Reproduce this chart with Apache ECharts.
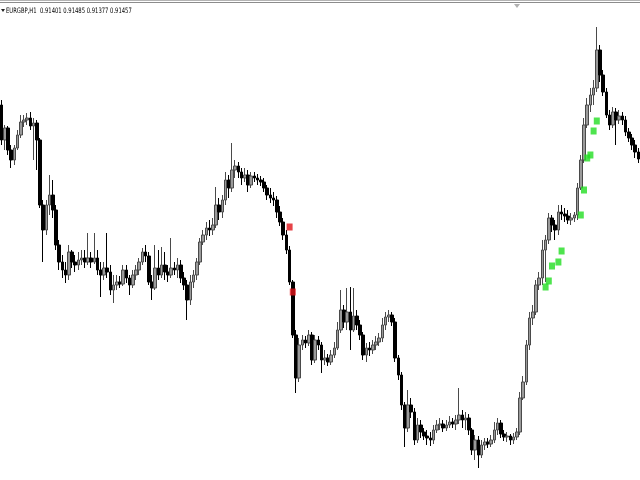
<!DOCTYPE html>
<html>
<head>
<meta charset="utf-8">
<script src="https://cdn.jsdelivr.net/npm/echarts@6/dist/echarts.min.js"></script>
<style>
html, body { margin: 0; padding: 0; background: #fff; }
#chart { width: 640px; height: 480px; }
</style>
</head>
<body>
<div id="chart"></div>
<script>
var symbolName = 'EURGBP,H1';
var headerValues = ['0.91401', '0.91485', '0.91377', '0.91457'];

// [open, close, low, high]
var ohlc = [
    [0.9200,0.9165,0.9160,0.9205],[0.9165,0.9177,0.9155,0.9180],[0.9177,0.9155,0.9150,0.9179],[0.9155,0.9145,0.9137,0.9160],[0.9145,0.9157,0.9140,0.9160],
    [0.9157,0.9170,0.9155,0.9175],[0.9170,0.9183,0.9167,0.9190],[0.9183,0.9185,0.9178,0.9190],[0.9185,0.9187,0.9180,0.9192],[0.9187,0.9179,0.9175,0.9193],
    [0.9179,0.9182,0.9145,0.9187],[0.9182,0.9165,0.9135,0.9185],[0.9165,0.9100,0.9097,0.9167],[0.9100,0.9075,0.9043,0.9105],[0.9075,0.9100,0.9070,0.9105],
    [0.9100,0.9110,0.9090,0.9130],[0.9110,0.9095,0.9087,0.9125],[0.9095,0.9060,0.9055,0.9100],[0.9060,0.9043,0.9035,0.9065],[0.9043,0.9035,0.9027,0.9050],
    [0.9035,0.9030,0.9022,0.9043],[0.9030,0.9053,0.9025,0.9060],[0.9053,0.9043,0.9037,0.9055],[0.9043,0.9040,0.9033,0.9050],[0.9040,0.9045,0.9035,0.9053],
    [0.9045,0.9047,0.9040,0.9055],[0.9047,0.9043,0.9037,0.9055],[0.9043,0.9047,0.9040,0.9072],[0.9047,0.9043,0.9037,0.9053],[0.9043,0.9047,0.9041,0.9072],
    [0.9047,0.9035,0.9030,0.9055],[0.9035,0.9030,0.9008,0.9043],[0.9030,0.9037,0.9025,0.9043],[0.9037,0.9033,0.9027,0.9072],[0.9033,0.9015,0.9010,0.9040],
    [0.9015,0.9020,0.9002,0.9030],[0.9020,0.9023,0.9015,0.9030],[0.9023,0.9021,0.9017,0.9029],[0.9021,0.9035,0.9019,0.9040],[0.9035,0.9027,0.9022,0.9040],
    [0.9027,0.9020,0.9010,0.9030],[0.9020,0.9030,0.9017,0.9035],[0.9030,0.9035,0.9025,0.9040],[0.9035,0.9043,0.9030,0.9047],[0.9043,0.9053,0.9040,0.9057],
    [0.9053,0.9049,0.9043,0.9060],[0.9049,0.9023,0.9020,0.9053],[0.9023,0.9017,0.9005,0.9030],[0.9017,0.9037,0.9015,0.9060],[0.9037,0.9030,0.9025,0.9055],
    [0.9030,0.9040,0.9027,0.9058],[0.9040,0.9033,0.9025,0.9053],[0.9033,0.9030,0.9023,0.9040],[0.9030,0.9037,0.9027,0.9067],[0.9037,0.9035,0.9030,0.9043],
    [0.9035,0.9040,0.9027,0.9047],[0.9040,0.9027,0.9022,0.9045],[0.9027,0.9020,0.9015,0.9033],[0.9020,0.9005,0.8985,0.9025],[0.9005,0.9023,0.9000,0.9030],
    [0.9023,0.9030,0.9017,0.9035],[0.9030,0.9043,0.9025,0.9047],[0.9043,0.9063,0.9040,0.9067],[0.9063,0.9070,0.9060,0.9075],[0.9070,0.9077,0.9065,0.9083],
    [0.9077,0.9075,0.9069,0.9085],[0.9075,0.9080,0.9070,0.9087],[0.9080,0.9100,0.9077,0.9118],[0.9100,0.9093,0.9085,0.9107],[0.9093,0.9105,0.9087,0.9110],
    [0.9105,0.9125,0.9100,0.9133],[0.9125,0.9117,0.9107,0.9130],[0.9117,0.9135,0.9113,0.9162],[0.9135,0.9139,0.9127,0.9145],[0.9139,0.9133,0.9127,0.9143],
    [0.9133,0.9127,0.9120,0.9137],[0.9127,0.9130,0.9123,0.9137],[0.9130,0.9120,0.9113,0.9135],[0.9120,0.9129,0.9117,0.9133],[0.9129,0.9127,0.9123,0.9133],
    [0.9127,0.9125,0.9120,0.9131],[0.9125,0.9123,0.9119,0.9129],[0.9123,0.9117,0.9113,0.9127],[0.9117,0.9110,0.9105,0.9120],[0.9110,0.9107,0.9102,0.9117],
    [0.9107,0.9105,0.9099,0.9113],[0.9105,0.9093,0.9087,0.9109],[0.9093,0.9083,0.9079,0.9099],[0.9083,0.9070,0.9065,0.9087],[0.9070,0.9055,0.9051,0.9075],
    [0.9055,0.9023,0.9020,0.9059],[0.9023,0.8970,0.8967,0.9025],[0.8970,0.8927,0.8912,0.8975],[0.8927,0.8960,0.8923,0.8967],[0.8960,0.8965,0.8955,0.8970],
    [0.8965,0.8962,0.8957,0.8969],[0.8962,0.8970,0.8959,0.8975],[0.8970,0.8945,0.8940,0.8973],[0.8945,0.8965,0.8942,0.8970],[0.8965,0.8960,0.8955,0.8969],
    [0.8960,0.8945,0.8932,0.8963],[0.8945,0.8947,0.8940,0.8955],[0.8947,0.8943,0.8939,0.8951],[0.8943,0.8950,0.8940,0.8955],[0.8950,0.8957,0.8947,0.8963],
    [0.8957,0.8975,0.8955,0.8983],[0.8975,0.8995,0.8972,0.9015],[0.8995,0.8983,0.8977,0.9000],[0.8983,0.8993,0.8975,0.9017],[0.8993,0.8975,0.8955,0.9018],
    [0.8975,0.8989,0.8973,0.9017],[0.8989,0.8980,0.8975,0.8995],[0.8980,0.8970,0.8965,0.8985],[0.8970,0.8950,0.8945,0.8973],[0.8950,0.8957,0.8943,0.8962],
    [0.8957,0.8955,0.8949,0.8963],[0.8955,0.8960,0.8951,0.8965],[0.8960,0.8963,0.8955,0.8969],[0.8963,0.8967,0.8959,0.8972],[0.8967,0.8980,0.8963,0.8987],
    [0.8980,0.8988,0.8975,0.8993],[0.8988,0.8990,0.8983,0.8995],[0.8990,0.8983,0.8979,0.8993],[0.8983,0.8947,0.8943,0.8987],[0.8947,0.8930,0.8925,0.8950],
    [0.8930,0.8900,0.8895,0.8933],[0.8900,0.8877,0.8858,0.8903],[0.8877,0.8900,0.8873,0.8915],[0.8900,0.8893,0.8887,0.8907],[0.8893,0.8865,0.8860,0.8897],
    [0.8865,0.8880,0.8862,0.8887],[0.8880,0.8873,0.8867,0.8885],[0.8873,0.8869,0.8865,0.8877],[0.8869,0.8867,0.8860,0.8875],[0.8867,0.8865,0.8859,0.8873],
    [0.8865,0.8875,0.8861,0.8880],[0.8875,0.8880,0.8872,0.8885],[0.8880,0.8881,0.8875,0.8887],[0.8881,0.8877,0.8873,0.8885],[0.8877,0.8880,0.8874,0.8885],
    [0.8880,0.8883,0.8877,0.8889],[0.8883,0.8881,0.8877,0.8887],[0.8881,0.8885,0.8875,0.8890],[0.8885,0.8890,0.8881,0.8917],[0.8890,0.8885,0.8877,0.8895],
    [0.8885,0.8887,0.8875,0.8893],[0.8887,0.8875,0.8870,0.8891],[0.8875,0.8855,0.8850,0.8877],[0.8855,0.8865,0.8845,0.8870],[0.8865,0.8850,0.8837,0.8869],
    [0.8850,0.8860,0.8847,0.8865],[0.8860,0.8863,0.8855,0.8867],[0.8863,0.8861,0.8857,0.8867],[0.8861,0.8865,0.8858,0.8870],[0.8865,0.8875,0.8862,0.8883],
    [0.8875,0.8882,0.8870,0.8887],[0.8882,0.8871,0.8867,0.8885],[0.8871,0.8868,0.8864,0.8875],[0.8868,0.8869,0.8863,0.8873],[0.8869,0.8865,0.8860,0.8871],
    [0.8865,0.8868,0.8861,0.8872],[0.8868,0.8873,0.8865,0.8877],[0.8873,0.8907,0.8870,0.8913],[0.8907,0.8923,0.8905,0.8929],[0.8923,0.8960,0.8920,0.8965],
    [0.8960,0.8987,0.8955,0.8993],[0.8987,0.8993,0.8980,0.9000],[0.8993,0.9020,0.8990,0.9025],[0.9020,0.9027,0.9015,0.9033],[0.9027,0.9055,0.9020,0.9065],
    [0.9055,0.9065,0.9023,0.9070],[0.9065,0.9087,0.9061,0.9092],[0.9087,0.9080,0.9073,0.9090],[0.9080,0.9075,0.9065,0.9085],[0.9075,0.9093,0.9070,0.9100],
    [0.9093,0.9091,0.9085,0.9100],[0.9091,0.9089,0.9083,0.9097],[0.9089,0.9085,0.9081,0.9095],[0.9085,0.9087,0.9080,0.9092],[0.9087,0.9090,0.9083,0.9093],
    [0.9090,0.9117,0.9085,0.9122],[0.9117,0.9145,0.9115,0.9150],[0.9145,0.9180,0.9142,0.9187],[0.9180,0.9200,0.9177,0.9207],[0.9200,0.9210,0.9193,0.9217],
    [0.9210,0.9217,0.9200,0.9225],[0.9217,0.9255,0.9213,0.9278],[0.9255,0.9230,0.9223,0.9260],[0.9230,0.9213,0.9209,0.9235],[0.9213,0.9190,0.9187,0.9217],
    [0.9190,0.9180,0.9175,0.9195],[0.9180,0.9193,0.9177,0.9198],[0.9193,0.9185,0.9160,0.9197],[0.9185,0.9189,0.9181,0.9195],[0.9189,0.9185,0.9180,0.9193],
    [0.9185,0.9173,0.9169,0.9189],[0.9173,0.9167,0.9163,0.9177],[0.9167,0.9160,0.9155,0.9171],[0.9160,0.9153,0.9147,0.9165],[0.9153,0.9146,0.9142,0.9157]
];

// signal squares: [bar index, price]
var sellMarks = [[90, 0.9078], [91, 0.9013]];
var buyMarks = [
    [170, 0.9018], [171, 0.9024], [172, 0.9039], [174, 0.9043], [175, 0.9054],
    [181, 0.9090], [182, 0.9115], [183, 0.9147], [184, 0.9150], [185, 0.9174], [186, 0.9184]
];

// hourly bar times
var times = [];
var t0 = Date.UTC(2019, 2, 4, 0);
for (var i = 0; i < ohlc.length; i++) {
    var d = new Date(t0 + i * 3600000);
    times.push(d.toISOString().slice(0, 13).replace('T', ' ') + ':00');
}

var chart = echarts.init(document.getElementById('chart'));

chart.setOption({
    animation: false,
    backgroundColor: '#ffffff',
    grid: {
        left: 0,
        right: 0,
        top: 10,
        bottom: 0
    },
    xAxis: {
        type: 'category',
        data: times,
        boundaryGap: true,
        show: false
    },
    yAxis: {
        type: 'value',
        min: 0.8825,
        max: 0.9295,
        show: false,
        splitLine: { show: false }
    },
    graphic: [
        { type: 'line', shape: { x1: 0, y1: 0.5, x2: 640, y2: 0.5 }, style: { stroke: '#b4b4b4', lineWidth: 1 } },
        { type: 'line', shape: { x1: 0, y1: 2.5, x2: 640, y2: 2.5 }, style: { stroke: '#8c8c8c', lineWidth: 1 } },
        { type: 'polygon', shape: { points: [[514, 4], [520, 4], [517, 8]] }, style: { fill: '#b0b0b0' } },
        { type: 'polygon', shape: { points: [[1, 9], [5, 9], [3, 12]] }, style: { fill: '#222' } },
        {
            type: 'text',
            x: 6,
            y: 7,
            scaleX: 0.7,
            style: {
                text: symbolName + '  ' + headerValues.join(' '),
                fontSize: 7.5,
                fontFamily: 'DejaVu Sans',
                fill: '#000'
            }
        }
    ],
    series: [
        {
            name: symbolName,
            type: 'candlestick',
            data: ohlc,
            barWidth: 3,
            itemStyle: {
                color: '#9a9a9a',
                color0: '#000000',
                borderColor: '#4a4a4a',
                borderColor0: '#000000',
                borderWidth: 1
            }
        },
        {
            name: 'sell',
            type: 'scatter',
            symbol: 'rect',
            symbolSize: [6, 7],
            data: sellMarks,
            itemStyle: { color: '#e0141a' },
            z: 5
        },
        {
            name: 'buy',
            type: 'scatter',
            symbol: 'rect',
            symbolSize: [6, 7],
            data: buyMarks,
            itemStyle: { color: '#22dd22' },
            z: 5
        }
    ]
});
</script>
</body>
</html>
